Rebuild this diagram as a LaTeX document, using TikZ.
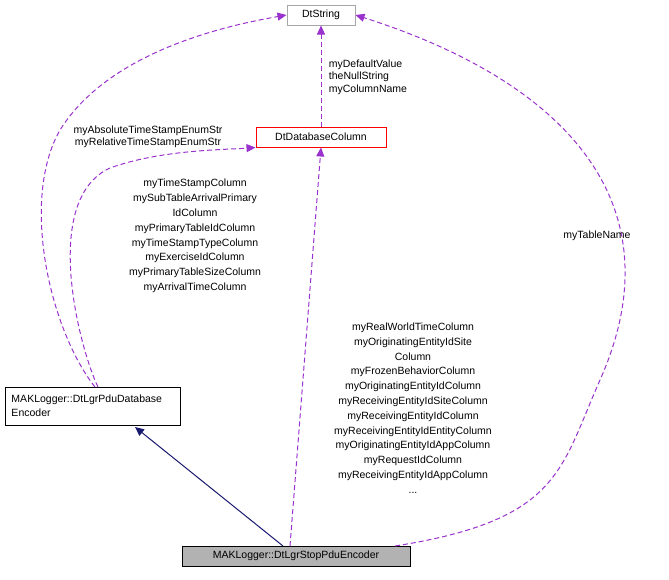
\documentclass[tikz,border=0pt]{standalone}
\usepackage{fontspec}
\setmainfont{Liberation Sans}
\usetikzlibrary{arrows.meta}
\definecolor{dep}{HTML}{9A32CD}
\definecolor{inh}{HTML}{191970}
\begin{document}
\begin{tikzpicture}[x=1pt,y=-1pt,line width=1pt,
  box/.style={draw,line width=1pt,inner sep=0pt,minimum height=20pt,font=\fontsize{10.5}{14}\selectfont},
  lbl/.style={font=\fontsize{10.5}{14.8}\selectfont,align=center,inner sep=0pt,text=black},
  use/.style={draw=dep,dashed,dash pattern=on 5pt off 3pt,-{Triangle[length=9pt,width=8pt,fill=dep]}},
  base/.style={draw=inh,-{Triangle[length=9pt,width=8pt,fill=inh]}}]
\useasboundingbox (0,0) rectangle (669,579);
\node[box,draw=gray!70,minimum width=68pt] (str) at (321,15) {DtString};
\node[box,draw=red,minimum width=130pt] (col) at (321,137) {DtDatabaseColumn};
\node[box,minimum width=175pt,minimum height=38pt,align=left,text width=162pt] (enc) at (92.5,406) {MAKLogger::DtLgrPduDatabase\\Encoder};
\node[box,fill=gray!60,minimum width=228pt] (stop) at (296,556) {MAKLogger::DtLgrStopPduEncoder};
\coordinate (s1) at (283,546);
\coordinate (s2) at (290,546);
\coordinate (s3) at (395,546);
\draw[base] (s1) -- (135,427);
\draw[use] (s2) -- (col.south);
\draw[use] (s3) .. controls (560,520) and (560,470) .. (600,380) .. controls (680,200) and (560,80) .. (str.east);
\draw[use] (col.north) -- (str.south);
\draw[use] (95,387) .. controls (50,330) and (20,200) .. (60,130) .. controls (110,50) and (230,25) .. (str.west);
\draw[use] (98,387) .. controls (80,350) and (40,200) .. (110,168) .. controls (160,150) and (220,150) .. (col.south west);
\node[lbl,align=left,font=\fontsize{10.5}{12.5}\selectfont] at (368,77) {myDefaultValue\\theNullString\\myColumnName};
\node[lbl,font=\fontsize{10.5}{12.5}\selectfont] at (148,137) {myAbsoluteTimeStampEnumStr\\myRelativeTimeStampEnumStr};
\node[lbl] at (195,236) {myTimeStampColumn\\mySubTableArrivalPrimary\\IdColumn\\myPrimaryTableIdColumn\\myTimeStampTypeColumn\\myExerciseIdColumn\\myPrimaryTableSizeColumn\\myArrivalTimeColumn};
\node[lbl] at (413,408) {myRealWorldTimeColumn\\myOriginatingEntityIdSite\\Column\\myFrozenBehaviorColumn\\myOriginatingEntityIdColumn\\myReceivingEntityIdSiteColumn\\myReceivingEntityIdColumn\\myReceivingEntityIdEntityColumn\\myOriginatingEntityIdAppColumn\\myRequestIdColumn\\myReceivingEntityIdAppColumn\\...};
\node[lbl] at (597,236) {myTableName};
\end{tikzpicture}
\end{document}
